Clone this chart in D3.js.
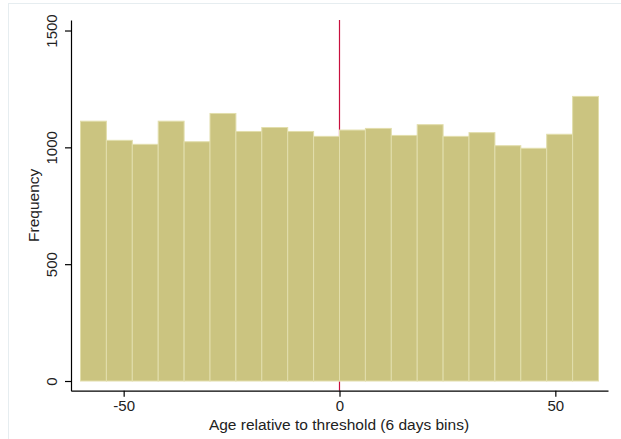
<!DOCTYPE html>
<html>
<head>
<meta charset="utf-8">
<script src="https://cdn.jsdelivr.net/npm/d3@7"></script>
<style>
  html, body { margin: 0; padding: 0; background: #fff; }
  svg { display: block; }
  text { font-family: "Liberation Sans", Arial, sans-serif; fill: #222; }
</style>
</head>
<body>
<svg id="chart" width="621" height="439"></svg>
<script>
// Bin starts (days relative to threshold), 6-day bins
const binStarts = [-60, -54, -48, -42, -36, -30, -24, -18, -12, -6, 0, 6, 12, 18, 24, 30, 36, 42, 48, 54];
const binWidth = 6;
const frequencies = [1112, 1030, 1013, 1112, 1024, 1145, 1068, 1085, 1068, 1047, 1074, 1081, 1051, 1097, 1047, 1063, 1007, 996, 1056, 1218];
const xTicks = [-50, 0, 50];
const yTicks = [0, 500, 1000, 1500];
const threshold = 0;
const xTitle = "Age relative to threshold (6 days bins)";
const yTitle = "Frequency";

const svg = d3.select("#chart");
const fmt = (d) => String(d); // plain hyphen-minus, no thousands separator

// faint panel border
svg.append("line").attr("x1", 8).attr("x2", 621).attr("y1", 3.5).attr("y2", 3.5)
  .attr("stroke", "#e6edf0").attr("stroke-width", 1);
svg.append("line").attr("x1", 8.5).attr("x2", 8.5).attr("y1", 3).attr("y2", 439)
  .attr("stroke", "#e6edf0").attr("stroke-width", 1);

const x = d3.scaleLinear().domain([-62.2, 62.2]).range([71, 608]);
const y = d3.scaleLinear().domain([-41.5, 1545]).range([390.7, 20]);

// threshold line (behind bars)
svg.append("line")
  .attr("x1", x(threshold)).attr("x2", x(threshold))
  .attr("y1", y(1545)).attr("y2", y(-41.5))
  .attr("stroke", "#c8103e").attr("stroke-width", 1.2);

// bars
svg.append("g").selectAll("rect").data(binStarts).join("rect")
  .attr("x", (d) => x(d))
  .attr("width", (d) => x(d + binWidth) - x(d))
  .attr("y", (d, i) => y(frequencies[i]))
  .attr("height", (d, i) => y(0) - y(frequencies[i]))
  .attr("fill", "#cbc480")
  .attr("stroke", "#e2deac")
  .attr("stroke-width", 1);

// x axis
const xAxis = svg.append("g").attr("transform", "translate(0,390.7)")
  .call(d3.axisBottom(x).tickValues(xTicks).tickFormat(fmt).tickSize(6).tickPadding(4).tickSizeOuter(0));
xAxis.select(".domain").attr("stroke", "#000").attr("stroke-width", 1.2);
xAxis.selectAll(".tick line").attr("stroke", "#000").attr("stroke-width", 1.2);
xAxis.selectAll(".tick text").attr("font-size", 15).attr("font-family", "Liberation Sans, Arial, sans-serif").attr("fill", "#222");

// y axis
const yAxis = svg.append("g").attr("transform", "translate(71,0)")
  .call(d3.axisLeft(y).tickValues(yTicks).tickFormat(fmt).tickSize(6).tickSizeOuter(0));
yAxis.select(".domain").attr("stroke", "#000").attr("stroke-width", 1.2);
yAxis.selectAll(".tick line").attr("stroke", "#000").attr("stroke-width", 1.2);
yAxis.selectAll(".tick text")
  .attr("font-size", 15).attr("font-family", "Liberation Sans, Arial, sans-serif").attr("fill", "#222")
  .attr("x", null).attr("dy", null)
  .attr("text-anchor", "middle")
  .attr("transform", "translate(-14,0) rotate(-90)");

// axis titles
svg.append("text")
  .attr("x", x(0) - 0.5).attr("y", 430)
  .attr("text-anchor", "middle")
  .attr("font-size", 15.5)
  .text(xTitle);

svg.append("text")
  .attr("transform", `translate(39,${(20 + 390.7) / 2}) rotate(-90)`)
  .attr("text-anchor", "middle")
  .attr("font-size", 15.5)
  .text(yTitle);
</script>
</body>
</html>
